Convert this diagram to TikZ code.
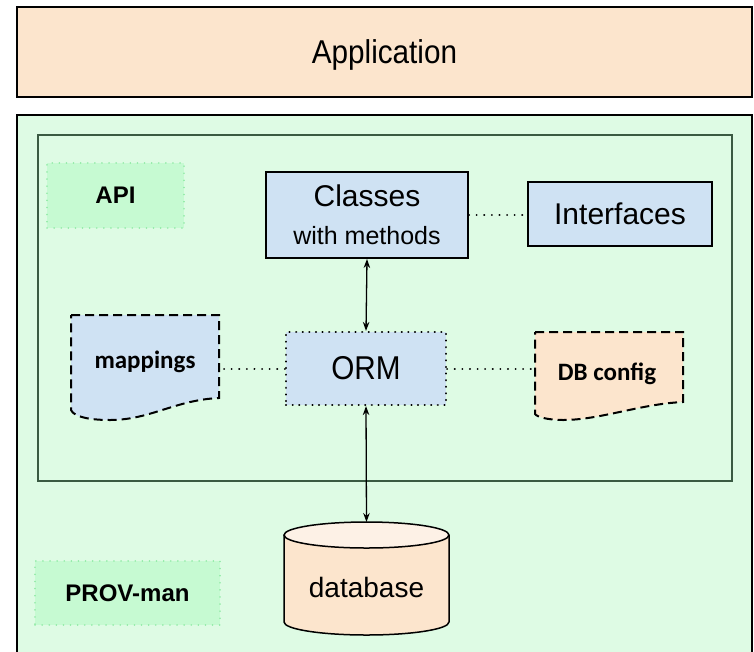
\documentclass[tikz,border=0pt]{standalone}
\usepackage{fontspec}
\setmainfont{Liberation Sans}
\newfontfamily\appfont{Liberation Sans}[FakeStretch=0.9]
\newfontfamily\calfont{Carlito}
\usetikzlibrary{arrows.meta}
\definecolor{peach}{HTML}{FCE5CD}
\definecolor{peachtop}{HTML}{FDF1E6}
\definecolor{paleblue}{HTML}{CFE2F3}
\definecolor{mint}{HTML}{DEFBE4}
\definecolor{mintlabel}{HTML}{C6FAD2}
\definecolor{mintdots}{HTML}{94EBA8}
\definecolor{framegreen}{HTML}{3A5A42}
\begin{document}
\begin{tikzpicture}[x=1pt,y=-1pt,
		box/.style={draw, line width=2pt, fill=paleblue, inner sep=0pt},
		tag/.style={fill=mintlabel, draw=mintdots, line width=1.6pt, line cap=round, dash pattern=on 0.1pt off 7pt, inner sep=0pt, font=\fontsize{24}{28}\selectfont\bfseries},
		docline/.style={line width=2pt, dash pattern=on 9pt off 5pt},
		doctext/.style={inner sep=0pt, minimum width=146pt, font=\calfont\bfseries\fontsize{25}{30}\selectfont},
		link/.style={line width=2pt, line cap=round, dash pattern=on 0.1pt off 7.5pt},
		biarrow/.style={line width=1.3pt, {Stealth[length=9pt,width=6.5pt]}-{Stealth[length=9pt,width=6.5pt]}}]
	\useasboundingbox (0,0) rectangle (754,651);
	% application layer
	\node[draw, line width=2.5pt, fill=peach, minimum width=735pt, minimum height=90pt, text depth=0pt, font=\appfont\fontsize{33}{40}\selectfont] (app) at (384.5,52) {Application};
	% PROV-man layer and API frame
	\draw[line width=2pt, fill=mint] (17,115) rectangle (752,665);
	\draw[line width=1.8pt, draw=framegreen] (38,135) rectangle (732,481);
	\node[tag, minimum width=137pt, minimum height=65pt] (api) at (115.5,195.5) {API};
	\node[tag, minimum width=185pt, minimum height=64pt] (prov) at (127.5,593) {PROV-man};
	% API parts
	\node[box, minimum width=202pt, minimum height=86pt, align=center, font=\fontsize{30}{38}\selectfont] (classes) at (367,215) {Classes\\{\fontsize{25}{38}\selectfont with methods}};
	\node[box, minimum width=184pt, minimum height=64pt, font=\fontsize{30}{36}\selectfont] (iface) at (620,214) {Interfaces};
	\node[box, line width=2.2pt, line cap=round, dash pattern=on 0.1pt off 6.5pt, minimum width=160pt, minimum height=73pt, font=\appfont\fontsize{33}{40}\selectfont] (orm) at (366,368.5) {ORM};
	% documents
	\draw[docline, fill=paleblue] (71,315) -- (219,315) -- (219,398) .. controls (175,400) and (150,420) .. (110,420) .. controls (90,420) and (74,417) .. (71,410) -- cycle;
	\node[doctext, minimum width=148pt] (map) at (145,362) {mappings};
	\draw[docline, fill=peach] (535,332) -- (683,332) -- (683,402) .. controls (640,404) and (600,420) .. (563,420) .. controls (548,420) and (537,417) .. (535,414) -- cycle;
	\node[doctext, minimum width=144pt] (cfg) at (607,374) {DB config};
	% database
	\draw[line width=1.5pt, fill=peach] (284,535) -- (284,622) arc[start angle=180, end angle=0, x radius=82.5, y radius=13] -- (449,535);
	\draw[line width=1.5pt, fill=peachtop] (366.5,535) ellipse [x radius=82.5, y radius=13];
	\node[font=\fontsize{28}{34}\selectfont] (db) at (366.5,587.5) {database};
	\coordinate (dbtop) at (366.5,522);
	% connectors
	\draw[link] (classes.east) -- (classes.east -| iface.west);
	\draw[link] (orm.west) -- (orm.west -| map.east);
	\draw[link] (orm.east) -- (orm.east -| cfg.west);
	\draw[biarrow] (classes.south) -- (orm.north);
	\draw[biarrow] (orm.south) -- (dbtop);
\end{tikzpicture}
\end{document}
